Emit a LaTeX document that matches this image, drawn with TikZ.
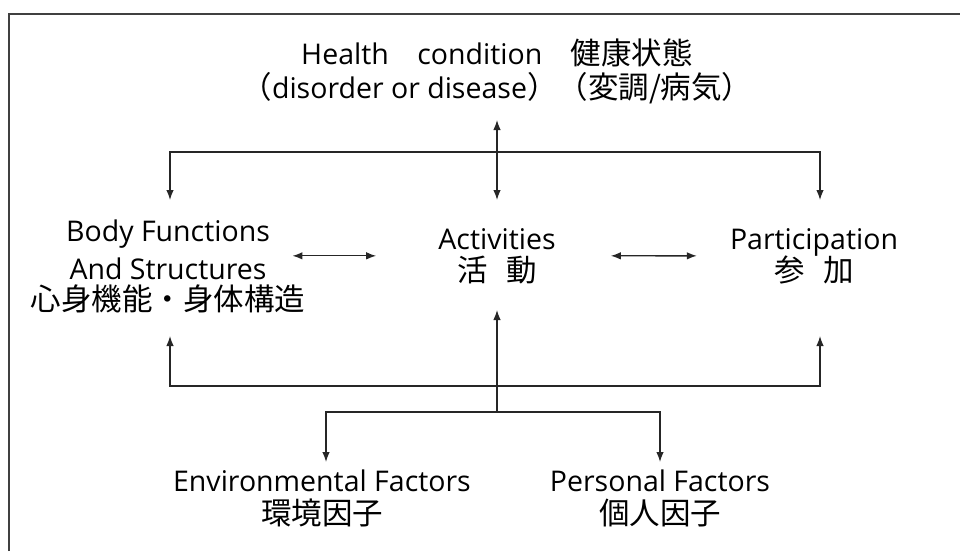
\documentclass[tikz,border=0pt]{standalone}
\usepackage{fontspec}
\usepackage{tikz}
\usetikzlibrary{arrows.meta}
\setmainfont{Open Sans}
\newfontfamily\jp{Noto Sans CJK JP}[Scale=1.07]

\tikzset{
  lbl/.style = {align=center, anchor=base, inner sep=2pt,
                font=\fontsize{28.5}{38}\selectfont},
  link/.style = {line width=1.3pt, black!85},
}

\begin{document}
\begin{tikzpicture}[x=1pt, y=-1pt, >={Latex[length=10pt,width=7.5pt]}]
\useasboundingbox (0,0) rectangle (960,551);
\draw[line width=2pt, black!75] (9,551) -- (9,14) -- (960,14); %frame

% base = baseline of the last line
\node[lbl] (hc) at (497,98) {Health\quad condition\quad {\jp 健康状態}\\[-4pt]
  {\jp （}disorder or disease{\jp ）（変調/病気）}};
\node[lbl] (bf) at (168,310) {Body Functions\\And Structures\\[-7pt]{\jp 心身機能・身体構造}};
\node[lbl] (act) at (497,281) {Activities\\[-6pt]{\jp 活\hspace{.6em}動}};
\node[lbl] (par) at (814,281) {Participation\\[-6pt]{\jp 参\hspace{.6em}加}};
\node[lbl] (env) at (322,524) {Environmental Factors\\[-5pt]{\jp 環境因子}};
\node[lbl] (pf) at (660,524) {Personal Factors\\[-5pt]{\jp 個人因子}};

\coordinate (top) at (497,152);
\coordinate (topEnd) at (497,200);
\coordinate (hcEnd) at (497,120);
\coordinate (low) at (497,386);
\coordinate (lowEnd) at (497,336);
\coordinate (actEnd) at (497,310);
\coordinate (fac) at (497,412);
\coordinate (facEnd) at (497,462);

% health <-> activities
\draw[link,<->] (hcEnd) -- (topEnd);
% top branch
\draw[link,->] (top) -| ([xshift=2pt]bf.north |- topEnd);
\draw[link,->] (top) -| ([xshift=6pt]par.north |- topEnd);
% side links
\draw[link,<->,shorten <=-15pt,shorten >=60pt] (bf.east |- act.center) -- (act.west);
\draw[link,<->,shorten <=53pt,shorten >=31pt] (act.east) -- (par.west);
% bottom branch
\draw[link,->] (fac) -- (actEnd);
\draw[link,->] (low) -| ([xshift=2pt]bf.south |- lowEnd);
\draw[link,->] (low) -| ([xshift=6pt]par.south |- lowEnd);
\draw[link,->] (fac) -| ([xshift=4pt]env.north |- facEnd);
\draw[link,->] (fac) -| (pf.north |- facEnd);
\end{tikzpicture}
\end{document}
